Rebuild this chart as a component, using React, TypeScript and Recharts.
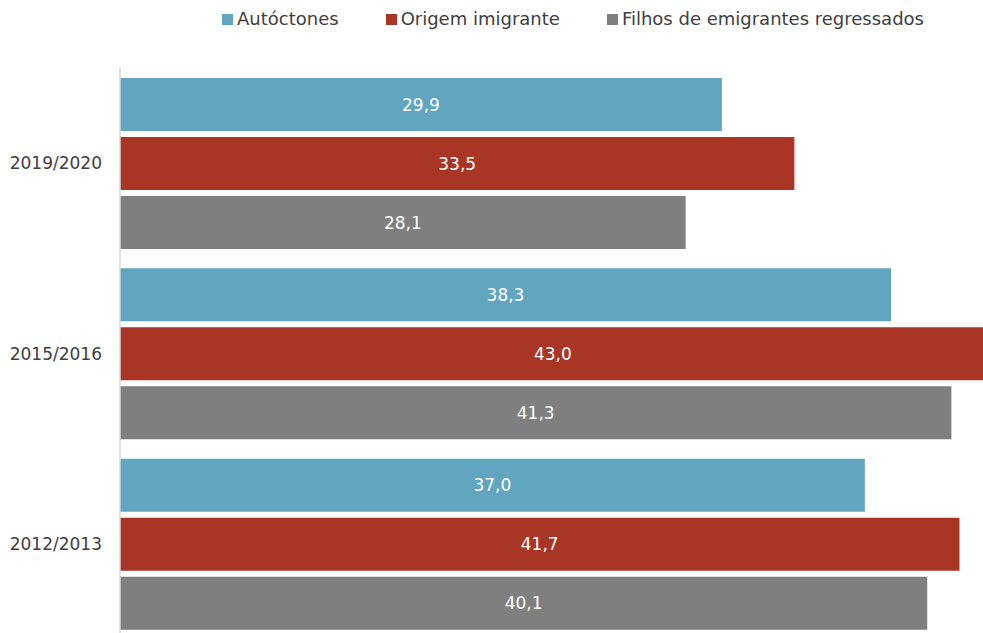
import React from "react";
import { Bar, BarChart, LabelList, Legend, XAxis, YAxis } from "recharts";

const periods = ["2019/2020", "2015/2016", "2012/2013"];
const autoctones = [29.9, 38.3, 37.0];
const origemImigrante = [33.5, 43.0, 41.7];
const filhosEmigrantes = [28.1, 41.3, 40.1];

const series = [
  { key: "autoctones", name: "Autóctones", color: "#62A5C0" },
  { key: "origem", name: "Origem imigrante", color: "#A93624" },
  { key: "filhos", name: "Filhos de emigrantes regressados", color: "#7F7F7F" },
];

const data = periods.map((period, i) => ({
  period,
  autoctones: autoctones[i],
  origem: origemImigrante[i],
  filhos: filhosEmigrantes[i],
}));

const font = "'DejaVu Sans', sans-serif";
const fmt = (v: any) => Number(v).toFixed(1).replace(".", ",");

function LegendBox() {
  return (
    <div
      style={{
        height: 68,
        display: "flex",
        alignItems: "flex-start",
        paddingLeft: 222,
        paddingTop: 9,
        boxSizing: "border-box",
        fontFamily: font,
        fontSize: 18,
        color: "#404040",
      }}
    >
      {series.map((s) => (
        <div key={s.key} style={{ display: "flex", alignItems: "center", marginRight: 47, lineHeight: "20px" }}>
          <span style={{ width: 11, height: 11, background: s.color, marginRight: 4, display: "inline-block" }} />
          <span>{s.name}</span>
        </div>
      ))}
    </div>
  );
}

export default function App() {
  return (
    <div style={{ position: "absolute", left: 0, top: 0, width: 983, height: 633, overflow: "hidden", background: "#fff" }}>
      <BarChart
        width={983}
        height={643}
        data={data}
        layout="vertical"
        margin={{ top: 0, right: 0, bottom: 4, left: 0 }}
        barCategoryGap={10}
        barGap={6}
      >
        <XAxis type="number" domain={[0, 42.87]} allowDataOverflow hide />
        <YAxis
          type="category"
          dataKey="period"
          width={120}
          tickLine={false}
          tickSize={0}
          tickMargin={18}
          axisLine={{ stroke: "#D9D9D9", strokeWidth: 1.5 }}
          tick={{ fill: "#404040", fontSize: 17, fontFamily: font }}
        />
        <Legend verticalAlign="top" content={() => <LegendBox />} />
        {series.map((s) => (
          <Bar key={s.key} dataKey={s.key} name={s.name} fill={s.color} isAnimationActive={false}>
            <LabelList
              dataKey={s.key}
              position="center"
              formatter={fmt}
              style={{ fill: "#fff", fontSize: 17, fontFamily: font }}
            />
          </Bar>
        ))}
      </BarChart>
    </div>
  );
}
